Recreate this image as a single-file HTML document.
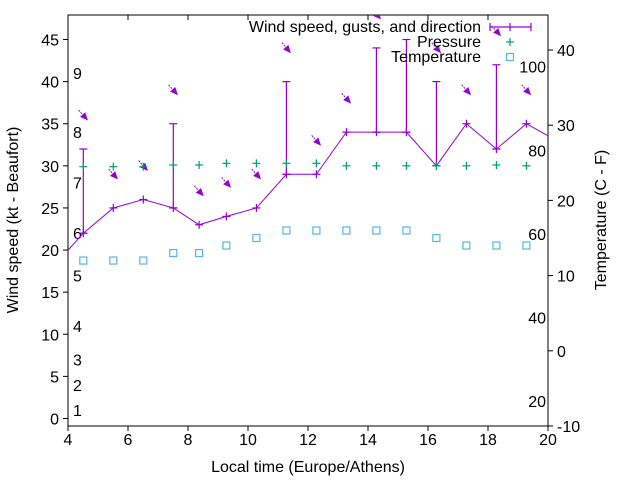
<!DOCTYPE html>
<html><head><meta charset="utf-8"><style>
html,body{margin:0;padding:0;background:#fff;}
svg{display:block;font-family:"Liberation Sans",Arial,sans-serif;font-size:16px;}
</style></head><body>
<svg id="chart" width="640" height="480" viewBox="0 0 640 480" xmlns="http://www.w3.org/2000/svg"></svg>
<script>
const times = [3.5,4.51,5.51,6.51,7.51,8.37,9.28,10.28,11.28,12.28,13.28,14.28,15.28,16.28,17.28,18.28,19.28,20.28];
const windSpeed = [18,22,25,26,25,23,24,25,29,29,34,34,34,30,35,32,35,33];
const windGust = [0,32,0,0,35,0,0,0,40,0,0,44,45,40,0,42,0,0];
const windDir = [315,318,318,318,318,318,318,318,320,318,318,318,318,318,318,318,318,318];
const pressure = [null,29.9,29.9,29.9,30.1,30.1,30.3,30.3,30.3,30.3,30.0,30.0,30.0,30.0,30.0,30.1,30.0,null];
const temperature = [null,12,12,12,13,13,14,15,16,16,16,16,16,15,14,14,14,null];
const xTicks = [4,6,8,10,12,14,16,18,20];
const yTicks = [0,5,10,15,20,25,30,35,40,45];
const y2Ticks = [-10,0,10,20,30,40];
const beaufortKt = [1,4,7,11,17,22,28,34,41];
const beaufortLabels = ["1","2","3","4","5","6","7","8","9"];
const fahrenheitTicks = [20,40,60,80,100];

const L=68,R=548,T=15,B=426;
const PURPLE="#9400d3",GREEN="#009e73",BLUE="#56b4e9";
const sx=t=>L+(t-4)*30;
const sy=v=>418.5-(v)*(379/45);
const sy2=c=>426-(c+10)*7.52;
const svg=document.getElementById('chart');
const NS="http://www.w3.org/2000/svg";
function mk(tag,attrs,parent){const e=document.createElementNS(NS,tag);for(const k in attrs)e.setAttribute(k,attrs[k]);(parent||svg).appendChild(e);return e;}

const defs=mk('defs',{});
const cp=mk('clipPath',{id:'plotclip'},defs);
mk('rect',{x:L,y:T,width:R-L,height:B-T},cp);

const frame=mk('rect',{x:L,y:T,width:R-L,height:B-T,fill:'none',stroke:'#000','stroke-width':1});



xTicks.forEach(t=>{
  const x=sx(t);
  const g=mk('g',{});
  
  
  mk('line',{x1:x,y1:B,x2:x,y2:B+5,stroke:'#000'},g);
  mk('line',{x1:x,y1:T,x2:x,y2:T+5,stroke:'#000'},g);
  const tx=mk('text',{x:x,y:B+19,'text-anchor':'middle',fill:'#000'},g);tx.textContent=t;
});
yTicks.forEach(v=>{
  const y=sy(v);
  const g=mk('g',{});
  
  
  mk('line',{x1:L-5,y1:y,x2:L,y2:y,stroke:'#000'},g);
  const tx=mk('text',{x:L-9,y:y+6,'text-anchor':'end',fill:'#000'},g);tx.textContent=v;
});
y2Ticks.forEach(c=>{
  const y=sy2(c);
  const g=mk('g',{});
  
  
  mk('line',{x1:R,y1:y,x2:R+5,y2:y,stroke:'#000'},g);
  const tx=mk('text',{x:R+9,y:y+6,'text-anchor':'start',fill:'#000'},g);tx.textContent=c;
});
beaufortKt.forEach((k,i)=>{
  const tx=mk('text',{x:73,y:sy(k)+6,fill:'#000'});
  
  
  tx.textContent=beaufortLabels[i];
});
fahrenheitTicks.forEach(f=>{
  const c=(f-32)/1.8;
  const tx=mk('text',{x:546,y:sy2(c)+6,'text-anchor':'end',fill:'#000'});
  
  
  tx.textContent=f;
});

let t1=mk('text',{x:308,y:472,'text-anchor':'middle',fill:'#000'});


t1.textContent='Local time (Europe/Athens)';
let t2=mk('text',{x:0,y:0,'text-anchor':'middle',fill:'#000',transform:'translate(18,220) rotate(-90)'});


t2.textContent='Wind speed (kt - Beaufort)';
let t3=mk('text',{x:0,y:0,'text-anchor':'middle',fill:'#000',transform:'translate(606,220) rotate(-90)'});


t3.textContent='Temperature (C - F)';

const plot=mk('g',{'clip-path':'url(#plotclip)'});



const pts=times.map((t,i)=>sx(t)+','+sy(windSpeed[i])).join(' ');
const wl=mk('polyline',{points:pts,fill:'none',stroke:PURPLE,'stroke-width':1},plot);



function plus(x,y,color,parent,name){
  const g=mk('g',{stroke:color,'stroke-width':1.2},parent);
  
  
  mk('line',{x1:x-4,y1:y,x2:x+4,y2:y},g);
  mk('line',{x1:x,y1:y-4,x2:x,y2:y+4},g);
  return g;
}
times.forEach((t,i)=>{
  const x=sx(t),y=sy(windSpeed[i]);
  plus(x,y,PURPLE,plot,'wind-speed-point');
  if(windGust[i]>0){
    const yg=sy(windGust[i]);
    const g=mk('g',{stroke:PURPLE,'stroke-width':1.2},plot);
    
    
    mk('line',{x1:x,y1:y,x2:x,y2:yg},g);
    mk('line',{x1:x-4,y1:yg,x2:x+4,y2:yg},g);
    mk('line',{x1:x-4,y1:y,x2:x+4,y2:y},g);
  }
  const top=Math.max(windSpeed[i],windGust[i])+4;
  const cx=x,cy=sy(top);
  const a=(windDir[i]-180)*Math.PI/180;
  const ux=Math.sin(a),uy=-Math.cos(a);
  const tipx=cx+7*ux,tipy=cy+7*uy,tailx=cx-7*ux,taily=cy-7*uy;
  const bx=tipx-8*ux,by=tipy-8*uy,px=-uy,py=ux;
  const ag=mk('g',{},plot);
  
  
  mk('line',{x1:tailx,y1:taily,x2:bx,y2:by,stroke:PURPLE,'stroke-width':1,'stroke-dasharray':'2,1'},ag);
  mk('polygon',{points:`${tipx},${tipy} ${bx+3.5*px},${by+3.5*py} ${bx-3.5*px},${by-3.5*py}`,fill:PURPLE},ag);
  if(pressure[i]!=null) plus(x,sy(pressure[i]),GREEN,plot,'pressure-point');
  if(temperature[i]!=null){
    const r=mk('rect',{x:x-3.5,y:sy2(temperature[i])-3.5,width:7,height:7,fill:'none',stroke:BLUE,'stroke-width':1.2},plot);
    
    
  }
});

const lg=mk('g',{});


const e1=mk('g',{},lg);


let lt=mk('text',{x:481,y:32,'text-anchor':'end',fill:'#000'},e1);lt.textContent='Wind speed, gusts, and direction';
mk('line',{x1:490,y1:27,x2:531,y2:27,stroke:PURPLE,'stroke-width':1.2},e1);
[490,510,531].forEach(xx=>mk('line',{x1:xx,y1:23,x2:xx,y2:31,stroke:PURPLE,'stroke-width':1.2},e1));
const e2=mk('g',{},lg);


lt=mk('text',{x:481,y:47,'text-anchor':'end',fill:'#000'},e2);lt.textContent='Pressure';
plus(510,42,GREEN,e2,'legend-pressure-marker');
const e3=mk('g',{},lg);


lt=mk('text',{x:481,y:62,'text-anchor':'end',fill:'#000'},e3);lt.textContent='Temperature';
mk('rect',{x:506.5,y:53.5,width:7,height:7,fill:'none',stroke:BLUE,'stroke-width':1.2},e3);
</script>
</body></html>
